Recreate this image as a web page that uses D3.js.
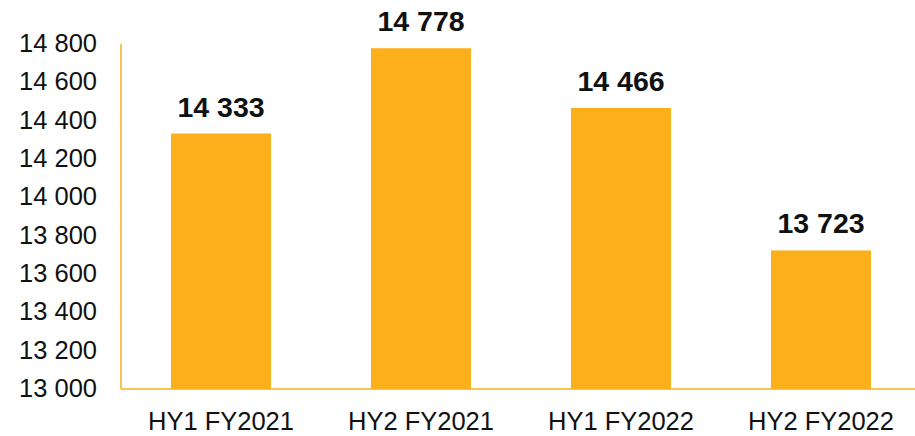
<!DOCTYPE html>
<html>
<head>
<meta charset="utf-8">
<script src="https://cdn.jsdelivr.net/npm/d3@7"></script>
<style>
  html, body { margin: 0; padding: 0; background: #fff; }
  svg { display: block; }
</style>
</head>
<body>
<div id="chart"></div>
<script>
// Half-year values bar chart
const categories = ['HY1 FY2021', 'HY2 FY2021', 'HY1 FY2022', 'HY2 FY2022'];
const values = [14333, 14778, 14466, 13723];
const yTicks = [13000, 13200, 13400, 13600, 13800, 14000, 14200, 14400, 14600, 14800];

(function() {
  const width = 915;
  const height = 436;
  const barColor = '#FBAF1B';
  const axisColor = '#FBAF1B';
  const textColor = '#111';

  const left = 121, right = 921, top = 44, bottom = 389;

  const fmt = d3.formatLocale({ decimal: ',', thousands: ' ', grouping: [3], currency: ['', ''] }).format(',d');

  const svg = d3.select('#chart')
    .append('svg')
    .attr('width', width)
    .attr('height', height)
    .style('font-family', 'Arial, "Liberation Sans", sans-serif');

  const x = d3.scaleBand()
    .domain(categories)
    .range([left, right])
    .paddingInner(0.5)
    .paddingOuter(0.25);

  const y = d3.scaleLinear()
    .domain([13000, 14800])
    .range([bottom, top]);

  // Bars
  svg.append('g')
    .selectAll('rect')
    .data(values)
    .join('rect')
    .attr('x', (d, i) => x(categories[i]))
    .attr('y', d => y(d))
    .attr('width', x.bandwidth())
    .attr('height', d => bottom - y(d))
    .attr('fill', barColor);

  // Axis lines
  svg.append('line')
    .attr('x1', left).attr('x2', left)
    .attr('y1', top).attr('y2', bottom)
    .attr('stroke', axisColor)
    .attr('stroke-width', 1.5);

  svg.append('line')
    .attr('x1', left).attr('x2', width)
    .attr('y1', bottom).attr('y2', bottom)
    .attr('stroke', axisColor)
    .attr('stroke-width', 1.5);

  // Y tick labels
  svg.append('g')
    .selectAll('text')
    .data(yTicks)
    .join('text')
    .attr('x', left - 24)
    .attr('y', d => y(d))
    .attr('dy', '0.32em')
    .attr('text-anchor', 'end')
    .attr('fill', textColor)
    .attr('font-size', '25.5px')
    .text(d => fmt(d));

  // Category labels
  svg.append('g')
    .selectAll('text')
    .data(categories)
    .join('text')
    .attr('x', d => x(d) + x.bandwidth() / 2)
    .attr('y', 430)
    .attr('text-anchor', 'middle')
    .attr('fill', textColor)
    .attr('font-size', '25.5px')
    .text(d => d);

  // Value labels
  svg.append('g')
    .selectAll('text')
    .data(values)
    .join('text')
    .attr('x', (d, i) => x(categories[i]) + x.bandwidth() / 2)
    .attr('y', d => y(d) - 17)
    .attr('text-anchor', 'middle')
    .attr('fill', textColor)
    .attr('font-size', '28.5px')
    .attr('font-weight', 'bold')
    .text(d => fmt(d));
})();
</script>
</body>
</html>
